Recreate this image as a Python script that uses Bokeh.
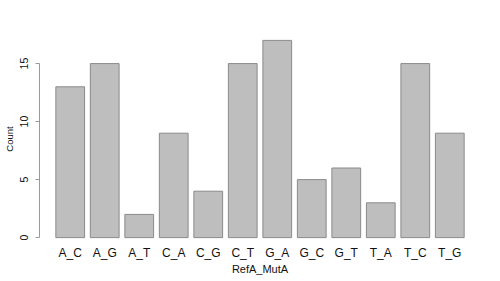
from bokeh.plotting import figure
from bokeh.models import FactorRange, Range1d, FixedTicker
from bokeh.embed import file_html
from bokeh.resources import INLINE

categories = ["A_C", "A_G", "A_T", "C_A", "C_G", "C_T", "G_A", "G_C", "G_T", "T_A", "T_C", "T_G"]
counts = [13, 15, 2, 9, 4, 15, 17, 5, 6, 3, 15, 9]
y_ticks = [0, 5, 10, 15]

FONT = "Liberation Sans"

p = figure(
    width=492, height=281,
    x_range=FactorRange(*categories, range_padding=0.39, range_padding_units="absolute"),
    y_range=Range1d(-0.68, 17.68),
    output_backend="svg", toolbar_location=None,
    min_border_left=39, min_border_right=12, min_border_top=32, min_border_bottom=36,
)
p.outline_line_color = None
p.xgrid.visible = False
p.ygrid.visible = False
p.background_fill_color = "white"
p.border_fill_color = "white"

p.vbar(x=categories, top=counts, width=1/1.2, bottom=0,
       fill_color="#bebebe", line_color="#8a8a8a", line_width=1)

# x axis: labels only
xa = p.xaxis[0]
xa.axis_line_color = None
xa.major_tick_line_color = None
xa.minor_tick_line_color = None
xa.major_tick_out = 0
xa.major_tick_in = 0
xa.major_label_text_font = FONT
xa.major_label_text_font_size = "12px"
xa.major_label_text_color = "#111111"
xa.major_label_standoff = 0
xa.axis_label = "RefA_MutA"
xa.axis_label_text_font = FONT
xa.axis_label_text_font_size = "11px"
xa.axis_label_text_font_style = "normal"
xa.axis_label_text_color = "#111111"
xa.axis_label_standoff = 0

# y axis
ya = p.yaxis[0]
ya.ticker = FixedTicker(ticks=y_ticks)
ya.bounds = (0, 15)
ya.axis_line_color = "#999999"
ya.major_tick_line_color = "#999999"
ya.major_tick_in = 0
ya.major_tick_out = 4
ya.minor_tick_line_color = None
ya.major_label_orientation = "vertical"
ya.major_label_text_font = FONT
ya.major_label_text_font_size = "10.5px"
ya.major_label_text_color = "#111111"
ya.major_label_standoff = 7
ya.axis_label = "Count"
ya.axis_label_text_font = FONT
ya.axis_label_text_font_size = "9.5px"
ya.axis_label_text_font_style = "normal"
ya.axis_label_text_color = "#111111"
ya.axis_label_standoff = 3

open("out.html", "w").write(file_html(p, INLINE))
